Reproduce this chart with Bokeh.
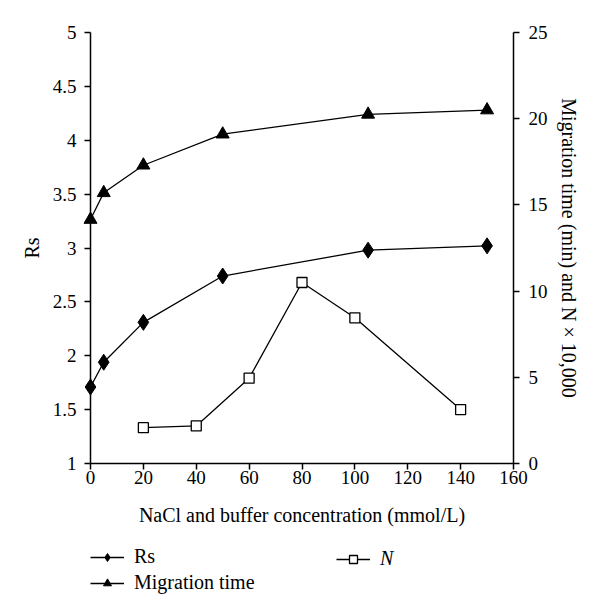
from bokeh.plotting import figure
from bokeh.layouts import column
from bokeh.models import Range1d, LinearAxis, Legend, LegendItem, FixedTicker
from bokeh.embed import file_html
from bokeh.resources import INLINE

# Data
conc_rs = [0, 5, 20, 50, 105, 150]
rs_vals = [1.71, 1.94, 2.31, 2.74, 2.98, 3.02]
mig_time = [14.15, 15.7, 17.3, 19.1, 20.25, 20.5]
conc_n = [20, 40, 60, 80, 100, 140]
n_vals = [2.08, 2.18, 4.95, 10.5, 8.45, 3.13]

x_ticks = [0, 20, 40, 60, 80, 100, 120, 140, 160]
left_ticks = [1, 1.5, 2, 2.5, 3, 3.5, 4, 4.5, 5]
right_ticks = [0, 5, 10, 15, 20, 25]

FONT = "Liberation Serif"
MAIN_H = 540
TOTAL_H = 614

p = figure(width=600, height=MAIN_H, output_backend="svg", toolbar_location=None,
           x_range=Range1d(0, 160), y_range=Range1d(1, 5),
           min_border_left=90, min_border_right=87, min_border_top=32, min_border_bottom=MAIN_H - 463)
p.extra_y_ranges = {"right": Range1d(0, 25)}
p.outline_line_color = None
p.grid.visible = False

def style_axis(ax):
    ax.axis_line_color = "black"
    ax.axis_line_width = 1.5
    ax.major_tick_line_color = "black"
    ax.major_tick_line_width = 1.5
    ax.major_tick_out = 6
    ax.major_tick_in = 0
    ax.minor_tick_line_color = None
    ax.major_label_text_font = FONT
    ax.major_label_text_font_size = "19px"
    ax.major_label_text_color = "black"
    ax.axis_label_text_font = FONT
    ax.axis_label_text_font_size = "20px"
    ax.axis_label_text_font_style = "normal"
    ax.axis_label_text_color = "black"

xa = p.xaxis[0]
style_axis(xa)
xa.ticker = FixedTicker(ticks=x_ticks)
xa.axis_label = "NaCl and buffer concentration (mmol/L)"
xa.major_label_standoff = 1
xa.axis_label_standoff = 17

ya = p.yaxis[0]
style_axis(ya)
ya.ticker = FixedTicker(ticks=left_ticks)
ya.axis_label = "Rs"
ya.major_label_standoff = 8
ya.axis_label_standoff = 7

ra = LinearAxis(y_range_name="right")
style_axis(ra)
ra.ticker = FixedTicker(ticks=right_ticks)
ra.axis_label = "Migration time (min) and N \u00d7 10,000"
ra.major_label_standoff = 9
ra.axis_label_standoff = 7
p.add_layout(ra, "right")

lw = 1.3
p.line(conc_rs, rs_vals, line_color="black", line_width=lw)
p.scatter(conc_rs, rs_vals, marker="diamond", size=16, fill_color="black", line_color="black", level="overlay")
p.line(conc_rs, mig_time, y_range_name="right", line_color="black", line_width=lw)
p.scatter(conc_rs, mig_time, y_range_name="right", marker="triangle", size=13, fill_color="black", line_color="black", level="overlay")
p.line(conc_n, n_vals, y_range_name="right", line_color="black", line_width=lw)
p.scatter(conc_n, n_vals, y_range_name="right", marker="square", size=10, fill_color="white", line_color="black", line_width=1.3, level="overlay")

# Legend strip below the chart (legend swatches only; no data drawn here)
leg_h = TOTAL_H - MAIN_H
p2 = figure(width=600, height=leg_h, output_backend="svg", toolbar_location=None,
            x_range=Range1d(0, 1), y_range=Range1d(0, 1),
            x_axis_location=None, y_axis_location=None,
            min_border_left=0, min_border_right=0, min_border_top=0, min_border_bottom=0)
p2.outline_line_color = None
p2.grid.visible = False
nan = [float("nan")]
r_l1 = p2.line(nan, nan, line_color="black", line_width=lw)
r_s1 = p2.scatter(nan, nan, marker="diamond", fill_color="black", line_color="black")
r_l2 = p2.line(nan, nan, line_color="black", line_width=lw)
r_s2 = p2.scatter(nan, nan, marker="triangle", fill_color="black", line_color="black")
r_l3 = p2.line(nan, nan, line_color="black", line_width=lw)
r_s3 = p2.scatter(nan, nan, marker="square", fill_color="white", line_color="black", line_width=1.3)

def make_legend(items, loc, style):
    return Legend(items=items, location=loc, orientation="vertical",
                  glyph_width=34, glyph_height=20, label_height=20, spacing=3,
                  padding=0, margin=0, label_standoff=10,
                  border_line_alpha=0, background_fill_alpha=0,
                  label_text_font=FONT, label_text_font_size="20px",
                  label_text_font_style=style, label_text_color="black")

lg1 = make_legend([LegendItem(label="Rs", renderers=[r_l1, r_s1]),
                   LegendItem(label="Migration time", renderers=[r_l2, r_s2])],
                  (0, 20), "normal")
lg2 = make_legend([LegendItem(label="N", renderers=[r_l3, r_s3])],
                  (246, 44), "italic")
p2.add_layout(lg1, "center")
p2.add_layout(lg2, "center")

layout = column(p, p2, spacing=0)
open("out.html", "w").write(file_html(layout, INLINE))
